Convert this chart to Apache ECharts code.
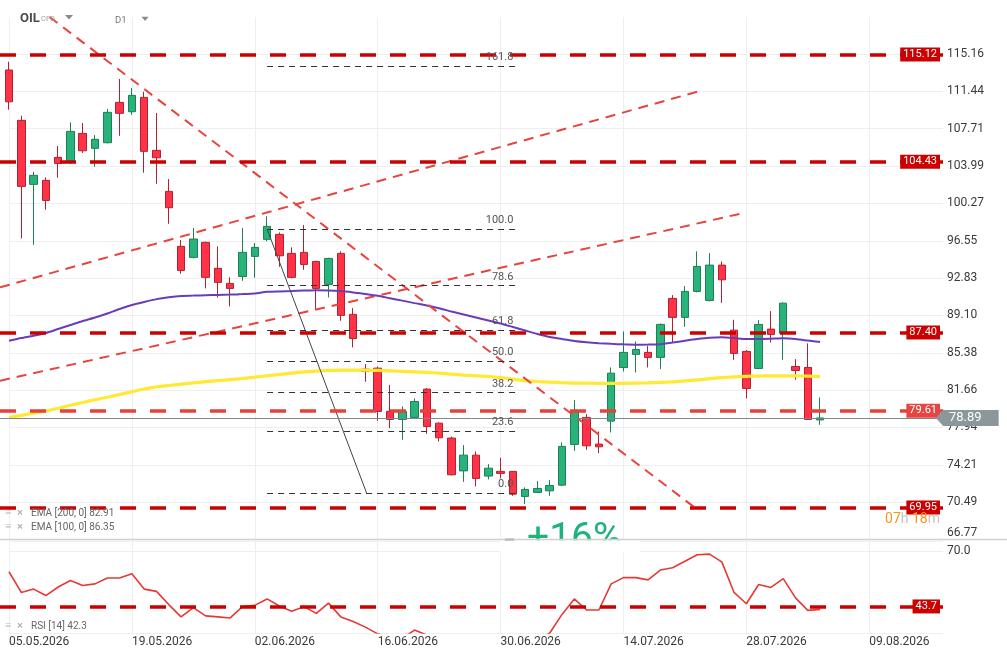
<!DOCTYPE html>
<html><head><meta charset="utf-8">
<script src="https://cdn.jsdelivr.net/npm/echarts@6/dist/echarts.min.js"></script>
<style>html,body{margin:0;padding:0;background:#fff}#c{width:1007px;height:659px}</style>
</head><body><div id="c"></div>
<script>
// ---------- data ----------
const dates = [
'05.05.2026','06.05.2026','07.05.2026','08.05.2026','11.05.2026','12.05.2026','13.05.2026','14.05.2026','15.05.2026','18.05.2026',
'19.05.2026','20.05.2026','21.05.2026','22.05.2026','25.05.2026','26.05.2026','27.05.2026','28.05.2026','29.05.2026','01.06.2026',
'02.06.2026','03.06.2026','04.06.2026','05.06.2026','08.06.2026','09.06.2026','10.06.2026','11.06.2026','12.06.2026','15.06.2026',
'16.06.2026','17.06.2026','18.06.2026','19.06.2026','22.06.2026','23.06.2026','24.06.2026','25.06.2026','26.06.2026','29.06.2026',
'30.06.2026','01.07.2026','02.07.2026','03.07.2026','06.07.2026','07.07.2026','08.07.2026','09.07.2026','10.07.2026','13.07.2026',
'14.07.2026','15.07.2026','16.07.2026','17.07.2026','20.07.2026','21.07.2026','22.07.2026','23.07.2026','24.07.2026','27.07.2026',
'28.07.2026','29.07.2026','30.07.2026','31.07.2026','03.08.2026','04.08.2026','05.08.2026','06.08.2026','07.08.2026','08.08.2026',
'09.08.2026','10.08.2026','11.08.2026','12.08.2026','13.08.2026','14.08.2026','15.08.2026'];

// [open, close, low, high]
const candles = [
[113.57,110.40,109.61,114.39],[108.55,101.97,96.78,109.01],[102.17,103.07,96.15,103.43],[102.57,100.57,99.64,102.87],
[104.86,104.26,102.83,105.99],[104.46,107.45,104.20,108.35],[107.25,105.52,105.29,108.28],[105.76,106.66,103.92,107.08],
[106.32,109.35,106.26,109.68],[110.34,109.25,107.01,112.67],[109.41,111.04,109.11,111.77],[110.84,105.46,103.33,111.40],
[105.56,104.82,102.23,109.28],[101.47,99.84,98.24,102.70],[95.99,93.59,93.26,96.62],[94.89,96.72,94.79,97.81],
[96.39,92.90,91.80,96.45],[93.80,92.40,90.90,95.99],[92.30,91.80,90.00,92.90],[92.99,95.39,92.56,97.81],
[94.99,95.89,92.86,96.32],[96.69,97.98,96.49,98.98],[97.18,95.05,93.95,97.38],[95.29,92.90,92.80,95.89],
[95.39,94.19,93.65,98.11],[94.49,91.80,89.67,94.55],[92.20,94.79,90.90,94.85],[95.29,89.11,88.57,95.49],
[89.21,86.81,85.92,89.84],[83.75,83.52,82.49,84.25],[83.85,79.54,78.60,84.00],[79.54,78.74,77.87,82.16],
[78.74,79.54,76.71,80.03],[78.94,80.53,78.85,80.83],[81.76,78.04,77.30,81.85],[78.37,76.91,76.55,78.45],
[76.88,73.22,73.15,77.04],[73.61,75.18,72.52,76.18],[75.18,72.86,72.06,75.55],[73.09,73.88,72.76,74.28],
[73.56,73.36,72.86,74.92],[73.56,71.29,71.12,73.60],[71.06,71.76,70.29,71.96],[71.46,71.86,71.40,72.59],
[71.62,72.16,71.12,72.69],[72.19,76.05,72.10,76.45],[76.25,79.54,75.61,80.67],[78.94,76.11,75.71,79.27],
[76.28,76.01,75.38,77.54],[78.57,83.35,77.44,83.92],[83.92,85.42,83.52,87.51],[85.22,85.71,83.42,86.51],
[85.42,84.92,83.92,86.08],[84.92,88.21,83.75,88.31],[90.80,88.91,86.41,91.13],[88.91,91.50,87.97,92.03],
[91.50,93.99,91.40,95.49],[90.60,94.12,90.50,95.32],[94.12,92.66,90.36,94.49],[87.64,85.32,84.68,88.67],
[85.52,81.83,80.83,85.65],[83.82,88.21,83.75,88.64],[87.74,87.21,86.41,89.54],[87.31,90.33,84.68,90.40],
[84.02,83.62,82.69,84.75],[83.92,78.74,78.70,86.32],[78.69,78.89,78.20,80.93]];

const ema100 = [86.58,86.85,87.07,87.35,87.75,88.15,88.55,88.90,89.30,89.75,
90.14,90.45,90.73,90.92,91.05,91.08,91.12,91.15,91.18,91.23,
91.30,91.46,91.50,91.53,91.58,91.62,91.60,91.53,91.40,91.25,
91.06,90.82,90.58,90.33,90.10,89.82,89.50,89.20,88.90,88.60,
88.30,87.95,87.60,87.25,86.95,86.75,86.55,86.42,86.33,86.27,
86.22,86.19,86.20,86.24,86.40,86.58,86.75,86.88,86.92,86.85,
86.75,86.75,86.78,86.82,86.75,86.60,86.45];

const ema200 = [78.94,79.15,79.37,79.58,79.85,80.15,80.43,80.70,80.95,81.22,
81.50,81.77,81.99,82.12,82.25,82.38,82.50,82.60,82.70,82.82,
82.95,83.09,83.22,83.35,83.48,83.56,83.62,83.65,83.66,83.65,
83.62,83.58,83.53,83.48,83.43,83.35,83.25,83.16,83.09,83.02,
82.90,82.75,82.60,82.52,82.45,82.40,82.36,82.35,82.34,82.33,
82.34,82.36,82.38,82.43,82.49,82.58,82.68,82.80,82.90,82.98,
83.03,83.06,83.08,83.09,83.08,83.05,83.00];

const rsi14 = [60.3,50.4,52.0,48.9,53.0,56.1,53.7,54.5,57.3,57.3,
59.3,52.0,50.9,44.6,38.7,43.1,39.2,38.7,38.2,43.6,
44.2,47.3,43.9,41.4,43.6,40.4,45.3,38.7,36.5,33.8,
30.6,29.0,28.5,32.4,30.0,27.5,24.0,27.0,25.0,26.5,
26.0,24.0,26.0,27.5,31.0,39.9,47.3,42.0,42.0,54.5,
57.5,57.5,56.4,61.1,62.2,65.3,68.4,68.7,65.0,50.4,
45.0,54.2,52.8,57.0,47.8,41.8,42.3];

const priceTickLabels = ['66.77','70.49','74.21','77.94','81.66','85.38','89.10','92.83','96.55','100.27','103.99','107.71','111.44','115.16'];
const rsiTickLabel = '70.0';
const levelPrices = [115.12, 104.43, 87.40, 79.61, 69.95];
const levelLabels = ['115.12', '104.43', '87.40', '79.61', '69.95'];
const rsiLevel = 43.7;
const rsiLevelLabel = '43.7';
const lastPrice = 78.89;
const lastPriceLabel = '78.89';
const fibLabels = ['161.8', '100.0', '78.6', '61.8', '50.0', '38.2', '23.6', '0.0'];
const fibPrices = [113.98, 97.71, 92.08, 87.66, 84.55, 81.44, 77.60, 71.39];
const fibSpan = [21, 41.2];
const fibAnchor = [[21, 97.71], [29.1, 71.39]];
const trendDown = [[3.3, 118.85], [55.7, 70.05]];
const trendUp1 = [[-0.73, 91.90], [56.2, 111.47]];
const trendUp2 = [[-0.73, 82.59], [59.9, 99.35]];
const legendTexts = ['EMA [200, 0] 82.91', 'EMA [100, 0] 86.35', 'RSI [14] 42.3'];
const badgeText = '+16%';

// ---------- layout ----------
const FONT = 'Roboto';
const PLOT_L = 9, PLOT_R = 943, W = 1007;
const P_TOP = 16.7, P_BOT = 539.5, R_TOP = 541, R_BOT = 633;
const PRICE_MIN = 66.77, PRICE_STEP = 3.7223, PRICE_MAX = PRICE_MIN + 14 * PRICE_STEP;
const RSI_MIN = 31, RSI_MAX = 75, RSI_STEP = 39;
const N = dates.length;
const XMIN_OVER = -PLOT_L / ((PLOT_R - PLOT_L) / (N - 1));

const chart = echarts.init(document.getElementById('c'), null, {renderer: 'canvas'});
const grid = (left, top, bottom) => ({left: left, right: W - PLOT_R, top: top, height: bottom - top});
const hiddenVal = (gi, min, max) => ({type: 'value', gridIndex: gi, min: min, max: max, show: false, splitLine: {show: false}});
const RED = '#cc0000';

const option = {
  animation: false,
  backgroundColor: '#fff',
  textStyle: {fontFamily: FONT},
  grid: [grid(PLOT_L, P_TOP, P_BOT), grid(PLOT_L, R_TOP, R_BOT), grid(0, P_TOP, P_BOT), grid(0, R_TOP, R_BOT)],
  xAxis: [
    {type: 'category', gridIndex: 0, data: dates, boundaryGap: false,
      axisLine: {show: false}, axisTick: {show: false}, axisLabel: {show: false, interval: 9},
      splitLine: {show: true, interval: 9, lineStyle: {color: '#efefef', width: 1}}},
    {type: 'category', gridIndex: 1, data: dates, boundaryGap: false,
      axisLine: {show: false}, axisTick: {show: false},
      axisLabel: {show: true, interval: 9, align: 'left', margin: 3, fontSize: 12, color: '#3a3a3a', fontFamily: FONT},
      splitLine: {show: true, interval: 9, lineStyle: {color: '#efefef', width: 1}}},
    hiddenVal(2, XMIN_OVER, N - 1),
    hiddenVal(3, XMIN_OVER, N - 1)
  ],
  yAxis: [
    {type: 'value', gridIndex: 0, position: 'right', min: PRICE_MIN, max: PRICE_MAX, interval: PRICE_STEP,
      axisLine: {show: false}, axisTick: {show: false},
      splitLine: {show: true, lineStyle: {color: '#efefef', width: 1}},
      axisLabel: {show: true, margin: 4, fontSize: 12, color: '#3a3a3a', fontFamily: FONT,
        formatter: function (v) {
          const k = Math.round((v - PRICE_MIN) / PRICE_STEP);
          if (Math.abs(v - (PRICE_MIN + k * PRICE_STEP)) > 1e-3 || k < 0 || k >= priceTickLabels.length) return '';
          return k === 0 ? '{lo|' + priceTickLabels[0] + '}' : priceTickLabels[k];
        },
        rich: {lo: {fontSize: 12, color: '#3a3a3a', fontFamily: FONT, padding: [0, 0, 13, 0]}}}},
    {type: 'value', gridIndex: 1, position: 'right', min: RSI_MIN, max: RSI_MAX, interval: RSI_STEP,
      axisLine: {show: false}, axisTick: {show: false},
      splitLine: {show: true, lineStyle: {color: '#efefef', width: 1}},
      axisLabel: {show: true, margin: 4, fontSize: 12, color: '#3a3a3a', fontFamily: FONT,
        formatter: function (v) { return Math.abs(v - 70) < 1e-6 ? rsiTickLabel : ''; }}},
    hiddenVal(2, PRICE_MIN, PRICE_MAX),
    hiddenVal(3, RSI_MIN, RSI_MAX)
  ],
  series: [
    {type: 'candlestick', name: 'OIL', xAxisIndex: 0, yAxisIndex: 0, data: candles, barWidth: 8, z: 2,
      itemStyle: {color: '#27b379', color0: '#ff3347', borderColor: '#1d7f55', borderColor0: '#b3202f', borderWidth: 1}},
    {type: 'line', name: 'EMA200', xAxisIndex: 0, yAxisIndex: 0, data: ema200, symbol: 'none', smooth: 0.2, z: 3,
      lineStyle: {color: '#ffe933', width: 3.2}},
    {type: 'line', name: 'EMA100', xAxisIndex: 0, yAxisIndex: 0, data: ema100, symbol: 'none', smooth: 0.2, z: 3,
      lineStyle: {color: '#6a3db8', width: 2}},
    {type: 'line', name: 'trendUp1', xAxisIndex: 2, yAxisIndex: 2, data: trendUp1, symbol: 'none', z: 4,
      lineStyle: {color: '#e8433d', width: 2, type: [10, 7]}},
    {type: 'line', name: 'trendUp2', xAxisIndex: 2, yAxisIndex: 2, data: trendUp2, symbol: 'none', z: 4,
      lineStyle: {color: '#e8433d', width: 2, type: [10, 7]}},
    {type: 'line', name: 'trendDown', xAxisIndex: 2, yAxisIndex: 2, data: trendDown, symbol: 'none', z: 4,
      lineStyle: {color: '#e8433d', width: 2, type: [10, 7]},
      markLine: {silent: true, symbol: ['none', 'none'], animation: false,
        data: levelPrices.map(function (p, i) {
          const light = i === 3;
          return {yAxis: p,
            lineStyle: {color: light ? '#e8403a' : RED, width: 3.5, type: [16, 14]},
            label: {show: true, position: 'insideEnd', formatter: levelLabels[i], color: '#fff',
              backgroundColor: light ? '#e64541' : RED, padding: [2, 3, 1, 3], fontSize: 11, fontFamily: FONT, distance: [3, 0]}};
        }).concat([{yAxis: lastPrice,
            lineStyle: {color: '#7b878d', width: 1, type: 'solid'},
            label: {show: true, position: 'end', formatter: lastPriceLabel, color: '#fff', backgroundColor: '#8c979c',
              padding: [2, 17, 1, 6], fontSize: 13, fontFamily: FONT, distance: 0}}])}},
    {type: 'line', name: 'fib', xAxisIndex: 2, yAxisIndex: 2, data: fibAnchor, symbol: 'none', z: 4,
      lineStyle: {color: '#444', width: 1},
      markLine: {silent: true, symbol: ['none', 'none'], animation: false,
        data: fibPrices.map(function (p, i) {
          return [{coord: [fibSpan[0], p], lineStyle: {color: '#333', width: 1, type: [6, 5]},
                   label: {show: true, position: 'insideEndTop', formatter: fibLabels[i], color: '#555', fontSize: 11, fontFamily: FONT, distance: [2, 3]}},
                  {coord: [fibSpan[1], p]}];
        })}},
    {type: 'line', name: 'RSI', xAxisIndex: 1, yAxisIndex: 1, data: rsi14, symbol: 'none', z: 3,
      lineStyle: {color: '#e53935', width: 1.6}},
    {type: 'line', name: 'rsiLevel', xAxisIndex: 3, yAxisIndex: 3, data: [[0, rsiLevel], [1, rsiLevel]], symbol: 'none', z: 4,
      lineStyle: {opacity: 0},
      markLine: {silent: true, symbol: ['none', 'none'], animation: false,
        data: [{yAxis: rsiLevel, lineStyle: {color: RED, width: 3.5, type: [16, 14]},
          label: {show: true, position: 'insideEnd', formatter: rsiLevelLabel, color: '#fff', backgroundColor: RED,
            padding: [2, 3, 1, 3], fontSize: 11, fontFamily: FONT, distance: [3, 0]}}]}}
  ]
};
chart.setOption(option);

// ---------- annotations ----------
const yLast = chart.convertToPixel({yAxisIndex: 0}, lastPrice);
const icon = (x, y) => [
  {type: 'text', x: x, y: y, style: {text: '\u2261', fill: '#b5b5b5', fontSize: 11, fontFamily: FONT, verticalAlign: 'middle'}},
  {type: 'text', x: x + 12, y: y, style: {text: '\u00d7', fill: '#b5b5b5', fontSize: 11, fontWeight: 'bold', fontFamily: FONT, verticalAlign: 'middle'}}
];
const g = [
  {type: 'rect', shape: {x: 0, y: 14, width: PLOT_R, height: 3.2}, style: {fill: '#fff'}, z2: -1},
  {type: 'text', x: 20, y: 18.7, style: {text: 'OIL', fill: '#4a4a4a', fontSize: 13, fontWeight: 'bold', fontFamily: FONT, verticalAlign: 'middle'}},
  {type: 'text', x: 41, y: 19.2, style: {text: 'CFD', fill: '#a0a0a0', fontSize: 7.5, fontFamily: FONT, verticalAlign: 'middle'}},
  {type: 'polygon', shape: {points: [[65, 15], [73, 15], [69, 19.5]]}, style: {fill: '#8a8a8a'}},
  {type: 'text', x: 115, y: 20.7, style: {text: 'D1', fill: '#777', fontSize: 9.5, fontFamily: FONT, verticalAlign: 'middle'}},
  {type: 'polygon', shape: {points: [[141.5, 16.7], [148.5, 16.7], [145, 21]]}, style: {fill: '#8a8a8a'}},
  {type: 'polygon', shape: {points: [[936, yLast], [943.5, yLast - 8.5], [943.5, yLast + 8.5]]}, style: {fill: '#8c979c'}},
  {type: 'text', x: 527, y: 521, style: {text: badgeText, fill: '#1db37a', fontSize: 39, fontFamily: FONT, verticalAlign: 'top'}},
  {type: 'rect', shape: {x: 500, y: 540.2, width: 140, height: 12.3}, style: {fill: '#fff'}},
  {type: 'line', shape: {x1: 0, y1: 539.5, x2: W, y2: 539.5}, style: {stroke: '#cfcfcf', lineWidth: 1.5}},
  {type: 'rect', shape: {x: 505, y: 538.3, width: 9, height: 2.5}, style: {fill: '#bdbdbd'}},
  {type: 'text', x: 940, y: 519, style: {text: '{o|07}{g|h }{o|18}{g|m}', align: 'right', verticalAlign: 'middle',
    rich: {o: {fill: '#f7941d', fontSize: 14, fontFamily: FONT}, g: {fill: '#c4c4c4', fontSize: 14, fontFamily: FONT}}}},
  {type: 'text', x: 31, y: 513, style: {text: legendTexts[0], fill: '#666', fontSize: 10, fontFamily: FONT, verticalAlign: 'middle'}},
  {type: 'text', x: 31, y: 527.5, style: {text: legendTexts[1], fill: '#666', fontSize: 10, fontFamily: FONT, verticalAlign: 'middle'}},
  {type: 'text', x: 31, y: 626, style: {text: legendTexts[2], fill: '#666', fontSize: 10, fontFamily: FONT, verticalAlign: 'middle'}}
].concat(icon(5, 513), icon(5, 527.5), icon(5, 626));
chart.setOption({graphic: {elements: g.map(function (e, i) { e.z = i === 0 ? 1 : 100; return e; })}});
</script>
</body></html>
